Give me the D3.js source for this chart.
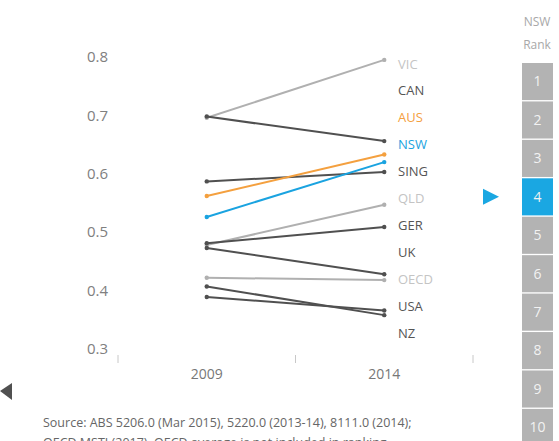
<!DOCTYPE html>
<html><head><meta charset="utf-8">
<script src="https://cdn.jsdelivr.net/npm/d3@7"></script>
<style>body{margin:0;background:#fff;} svg{display:block;font-family:"Open Sans",sans-serif;}</style>
</head><body>
<svg id="c" width="559" height="441"></svg>
<script>
const years = ["2009", "2014"];
const regions = ["VIC","CAN","AUS","NSW","SING","QLD","GER","UK","OECD","USA","NZ"];
const v2009 = [0.696, 0.698, 0.562, 0.526, 0.587, 0.478, 0.481, 0.473, 0.422, 0.389, 0.407];
const v2014 = [0.795, 0.656, 0.633, 0.620, 0.603, 0.547, 0.509, 0.428, 0.418, 0.366, 0.358];
const tone = ["light","dark","aus","nsw","dark","light","dark","dark","light","dark","dark"];
const yTicks = [0.3,0.4,0.5,0.6,0.7,0.8];
const ranks = [1,2,3,4,5,6,7,8,9,10];
const nswRank = 4;
const sourceLines = ["Source: ABS 5206.0 (Mar 2015), 5220.0 (2013-14), 8111.0 (2014);",
  "OECD MSTI (2017). OECD average is not included in ranking."];

const lineColor = {light:"#b0b0b0", dark:"#505050", aus:"#f4a03f", nsw:"#1aa3e0"};
const labelColor = {light:"#c4c4c4", dark:"#555555", aus:"#f4a03f", nsw:"#1aa3e0"};

const svg = d3.select("#c");
const x = d3.scaleBand().domain(years).range([118, 473]);
const y = d3.scaleLinear().domain([0.3, 0.8]).range([349, 57]);

// y labels
svg.append("g").selectAll("text").data(yTicks).join("text")
  .attr("x", 108).attr("y", d => y(d)).attr("dy", "0.35em")
  .attr("text-anchor", "end").attr("fill", "#808080").style("font-size", "15px")
  .text(d3.format(".1f"));

// x axis
const xg = svg.append("g");
const bounds = [x.range()[0], ...years.map(d => x(d) + x.bandwidth())];
xg.selectAll("line").data(bounds).join("line")
  .attr("x1", d => d).attr("x2", d => d).attr("y1", 355).attr("y2", 363)
  .attr("stroke", "#c8c8c8").attr("stroke-width", 1);
xg.selectAll("text").data(years).join("text")
  .attr("x", d => x(d) + x.bandwidth()/2).attr("y", 374).attr("dy", "0.35em")
  .attr("text-anchor", "middle").attr("fill", "#777").style("font-size", "14px").text(d => d);

const cx = d => x(d) + x.bandwidth()/2;
const data = regions.map((r, i) => ({r, a: v2009[i], b: v2014[i], t: tone[i], i}));
const order = ["light","dark","aus","nsw"];
const drawn = data.slice().sort((p, q) => order.indexOf(p.t) - order.indexOf(q.t));
const lg = svg.append("g");
drawn.forEach(d => {
  lg.append("line").attr("x1", cx("2009")).attr("y1", y(d.a)).attr("x2", cx("2014")).attr("y2", y(d.b))
    .attr("stroke", lineColor[d.t]).attr("stroke-width", 2);
  lg.append("circle").attr("cx", cx("2009")).attr("cy", y(d.a)).attr("r", 2.2).attr("fill", lineColor[d.t]);
  lg.append("circle").attr("cx", cx("2014")).attr("cy", y(d.b)).attr("r", 2.2).attr("fill", lineColor[d.t]);
});

// right labels by rank
const ly = d3.scalePoint().domain(regions).range([64, 333]);
svg.append("g").selectAll("text").data(data).join("text")
  .attr("x", 398).attr("y", d => ly(d.r)).attr("dy", "0.35em")
  .attr("fill", d => labelColor[d.t]).style("font-size", "13px").text(d => d.r);

// NSW rank panel
svg.append("text").attr("x", 537).attr("y", 22).attr("dy","0.35em").attr("text-anchor","middle")
  .attr("fill","#a8a8a8").style("font-size","12px").text("NSW");
svg.append("text").attr("x", 537).attr("y", 45).attr("dy","0.35em").attr("text-anchor","middle")
  .attr("fill","#a8a8a8").style("font-size","12px").text("Rank");
const ry = d3.scaleBand().domain(ranks).range([63, 446]).paddingInner(0.035);
const rg = svg.append("g");
rg.selectAll("rect").data(ranks).join("rect")
  .attr("x", 522).attr("y", d => ry(d)).attr("width", 31).attr("height", ry.bandwidth())
  .attr("fill", d => d === nswRank ? "#1aa7e2" : "#b3b3b3");
rg.selectAll("text").data(ranks).join("text")
  .attr("x", 537.5).attr("y", d => ry(d) + ry.bandwidth()/2).attr("dy","0.35em")
  .attr("text-anchor","middle").attr("fill","#f2f2f2").style("font-size","14px").text(d => d);

const ay = ry(nswRank) + ry.bandwidth()/2;
svg.append("path").attr("d", `M483,${ay-8}L499,${ay}L483,${ay+8}Z`).attr("fill", "#1aa7e2");
svg.append("path").attr("d", "M0,391L12,383L12,400Z").attr("fill", "#505050");

svg.append("g").selectAll("text").data(sourceLines).join("text")
  .attr("x", 43).attr("y", (d, i) => 423 + i*20).attr("dy","0.35em")
  .attr("fill","#666").style("font-size","12.5px").text(d => d);
</script>
</body></html>
